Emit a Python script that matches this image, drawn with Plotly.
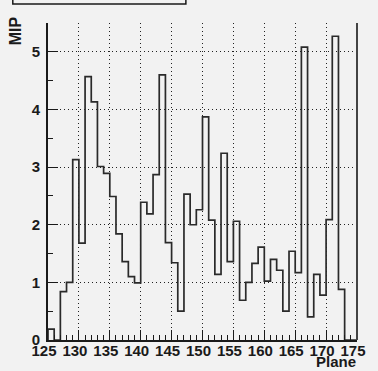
import plotly.graph_objects as go

# Histogram: MIP per plane, unit-width bins from 125 to 175
bin_low = list(range(125, 175))
mip = [0.19, 0.0, 0.84, 1.00, 3.13, 1.68, 4.57, 4.13, 3.01, 2.89,
       2.49, 1.84, 1.36, 1.10, 0.99, 2.39, 2.19, 2.87, 4.60, 1.69,
       1.34, 0.50, 2.53, 2.00, 2.26, 3.87, 2.08, 1.14, 3.24, 1.36,
       2.06, 0.69, 1.00, 1.33, 1.61, 1.02, 1.40, 1.21, 0.50, 1.54,
       1.17, 5.08, 0.40, 1.14, 0.78, 2.09, 5.27, 0.88, 0.0, 0.0]
x_ticks = [125, 130, 135, 140, 145, 150, 155, 160, 165, 170, 175]
y_ticks = [0, 1, 2, 3, 4, 5]

# step outline: rise at the left edge, then one step per bin
xs = [bin_low[0]] + bin_low + [bin_low[-1] + 1]
ys = [0.0] + mip + [mip[-1]]

BG = "#f2f2f2"
INK = "#1a1a1a"
FAMILY = "Liberation Sans, Arial, sans-serif"
font = dict(family=FAMILY, size=15, color=INK, weight="bold")

fig = go.Figure()
fig.add_trace(go.Scatter(x=xs, y=ys, mode="lines", line=dict(color="#2a2a2a", width=1.7, shape="hv"),
                         hoverinfo="skip", showlegend=False))

W, H = 378, 371
L, R, T, B = 48, 14, 23, 29

grid = dict(showgrid=True, gridcolor="#222222", gridwidth=1, griddash="1px,3px")

fig.update_layout(
    width=W, height=H,
    margin=dict(l=L, r=R, t=T, b=B, pad=0),
    paper_bgcolor=BG, plot_bgcolor=BG,
    showlegend=False,
    xaxis=dict(range=[125, 175], tickvals=x_ticks, ticktext=[str(v) for v in x_ticks],
               ticks="inside", ticklen=10, tickwidth=1, tickcolor=INK,
               minor=dict(dtick=1, tick0=125, ticks="inside", ticklen=5, tickwidth=1, tickcolor=INK, showgrid=False),
               showline=True, linecolor=INK, linewidth=2,
               zeroline=False, tickfont=font, ticklabelshift=-4, ticklabelstandoff=-4, **grid),
    yaxis=dict(range=[0, 5.5], tickvals=y_ticks, ticktext=[str(v) for v in y_ticks],
               ticks="inside", ticklen=10, tickwidth=1, tickcolor=INK,
               minor=dict(dtick=0.5, tick0=0, ticks="inside", ticklen=5, tickwidth=1, tickcolor=INK, showgrid=False),
               showline=True, linecolor=INK, linewidth=2,
               zeroline=False, tickfont=font, ticklabelstandoff=3, **grid),
)

pw, ph = W - L - R, H - T - B
def px_x(p):
    return (p - L) / pw
def px_y(p):
    return (H - B - p) / ph

# right edge of the frame
fig.add_shape(type="line", xref="paper", yref="paper", x0=1, x1=1, y0=0, y1=1,
              line=dict(color="#444444", width=2))
# title pave (only its lower part is on the canvas)
fig.add_shape(type="rect", xref="paper", yref="paper",
              x0=px_x(12), x1=px_x(189), y0=px_y(4), y1=px_y(-10),
              line=dict(color=INK, width=1.5), fillcolor=BG, layer="above")

fig.add_annotation(text="MIP", xref="paper", yref="paper", x=px_x(15), y=px_y(14),
                   xanchor="center", yanchor="top", textangle=-90, showarrow=False,
                   font=dict(family=FAMILY, size=16, color=INK, weight="bold"))
fig.add_annotation(text="Plane", xref="paper", yref="paper", x=px_x(365), y=px_y(374),
                   xanchor="right", yanchor="bottom", showarrow=False,
                   font=dict(family=FAMILY, size=15, color=INK, weight="bold"))

fig.write_html("out.html")
